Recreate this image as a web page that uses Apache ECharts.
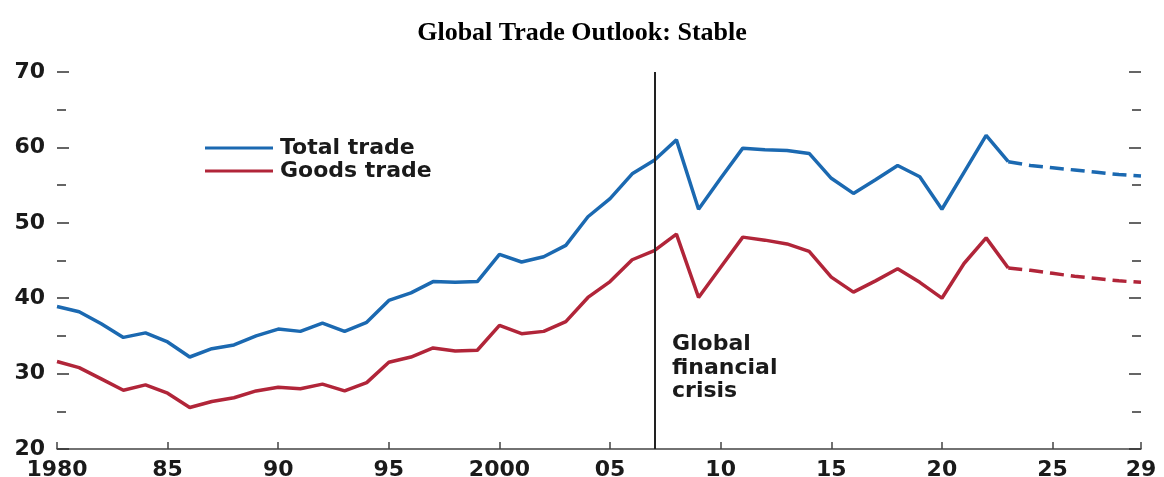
<!DOCTYPE html>
<html>
<head>
<meta charset="utf-8">
<script src="https://cdn.jsdelivr.net/npm/echarts@6/dist/echarts.min.js"></script>
<style>
  html, body { margin: 0; padding: 0; background: #fff; }
  #chart { width: 1164px; height: 477px; }
</style>
</head>
<body>
<div id="chart"></div>
<script>
// years 1980 .. 2029
const years = [];
for (let y = 1980; y <= 2029; y++) years.push(String(y));

// historical 1980-2023
const totalHist = [38.9, 38.2, 36.6, 34.8, 35.4, 34.2, 32.2, 33.3, 33.8, 35.0,
  35.9, 35.6, 36.7, 35.6, 36.8, 39.7, 40.7, 42.2, 42.1, 42.2,
  45.8, 44.8, 45.5, 47.0, 50.8, 53.2, 56.5, 58.3, 61.0, 51.8,
  55.9, 59.9, 59.7, 59.6, 59.2, 55.9, 53.9, 55.7, 57.6, 56.1,
  51.8, 56.7, 61.6, 58.1];
const goodsHist = [31.6, 30.8, 29.3, 27.8, 28.5, 27.4, 25.5, 26.3, 26.8, 27.7,
  28.2, 28.0, 28.6, 27.7, 28.8, 31.5, 32.2, 33.4, 33.0, 33.1,
  36.4, 35.3, 35.6, 36.9, 40.1, 42.2, 45.1, 46.3, 48.5, 40.1,
  44.1, 48.1, 47.7, 47.2, 46.2, 42.8, 40.8, 42.3, 43.9, 42.1,
  40.0, 44.6, 48.0, 44.0];
// projections 2023-2029
const totalProj = [58.1, 57.6, 57.3, 57.0, 56.7, 56.4, 56.2];
const goodsProj = [44.0, 43.7, 43.3, 42.9, 42.6, 42.3, 42.1];

const crisisYear = '2007';
const labelYears = ['1980', '1985', '1990', '1995', '2000', '2005', '2010', '2015', '2020', '2025', '2029'];

const histPad = (arr) => arr.concat(new Array(years.length - arr.length).fill(null));
const projPad = (arr) => new Array(years.length - arr.length).fill(null).concat(arr);

const blue = '#1b69b1';
const red = '#b12539';
const ink = '#1a1a1a';
const font = 'DejaVu Sans';
const showYear = (i, v) => labelYears.indexOf(years[i]) >= 0;

const chart = echarts.init(document.getElementById('chart'));
chart.setOption({
  animation: false,
  title: {
    text: 'Global Trade Outlook: Stable',
    left: 'center',
    top: 15,
    textStyle: { fontFamily: 'Liberation Serif', fontWeight: 'bold', fontSize: 26, color: '#000' }
  },
  legend: {
    data: ['Total trade', 'Goods trade'],
    orient: 'vertical',
    left: 200,
    top: 132,
    icon: 'rect',
    itemWidth: 68,
    itemHeight: 3,
    itemGap: 1,
    textStyle: { fontFamily: font, fontWeight: 'bold', fontSize: 22, lineHeight: 20, color: ink, padding: [0, 0, 0, 2] }
  },
  grid: { left: 57, right: 23, top: 72, bottom: 28, outerBoundsMode: 'none' },
  xAxis: {
    type: 'category',
    data: years,
    boundaryGap: false,
    axisLine: { lineStyle: { color: '#444', width: 1.5 } },
    axisTick: { inside: true, length: 7, interval: showYear, lineStyle: { color: '#444', width: 1.5 } },
    axisLabel: {
      interval: showYear,
      margin: 10,
      fontFamily: font,
      fontWeight: 'bold',
      fontSize: 22,
      color: ink,
      formatter: (v) => (v === '1980' || v === '2000') ? v : v.slice(2)
    }
  },
  yAxis: [{
    type: 'value',
    min: 20, max: 70, interval: 10,
    axisLine: { show: false },
    axisTick: { show: true, inside: true, length: 12, lineStyle: { color: '#333', width: 1.5 } },
    minorTick: { show: true, splitNumber: 2, length: 9, lineStyle: { color: '#333', width: 1.5 } },
    splitLine: { show: false },
    axisLabel: { margin: 12, fontFamily: font, fontWeight: 'bold', fontSize: 22, color: ink }
  }, {
    type: 'value',
    position: 'right',
    min: 20, max: 70, interval: 10,
    axisLine: { show: false },
    axisTick: { show: true, inside: true, length: 12, lineStyle: { color: '#333', width: 1.5 } },
    minorTick: { show: true, splitNumber: 2, length: 9, lineStyle: { color: '#333', width: 1.5 } },
    splitLine: { show: false },
    axisLabel: { show: false }
  }],
  series: [{
    name: 'Total trade',
    type: 'line',
    data: histPad(totalHist),
    symbol: 'none',
    color: blue,
    lineStyle: { width: 3.5, color: blue },
    markLine: {
      silent: true,
      symbol: 'none',
      label: { show: false },
      lineStyle: { color: '#222', width: 2, type: 'solid' },
      data: [{ xAxis: crisisYear }]
    }
  }, {
    name: 'Goods trade',
    type: 'line',
    data: histPad(goodsHist),
    symbol: 'none',
    color: red,
    lineStyle: { width: 3.5, color: red }
  }, {
    name: 'Total trade projection',
    type: 'line',
    data: projPad(totalProj),
    symbol: 'none',
    lineStyle: { width: 3.5, color: blue, type: [14, 7] }
  }, {
    name: 'Goods trade projection',
    type: 'line',
    data: projPad(goodsProj),
    symbol: 'none',
    lineStyle: { width: 3.5, color: red, type: [14, 7] }
  }],
  graphic: [{
    type: 'text',
    left: 672,
    top: 333,
    style: {
      text: 'Global\nfinancial\ncrisis',
      fontFamily: font,
      fontWeight: 'bold',
      fontSize: 22,
      lineHeight: 23.5,
      fill: ink
    }
  }]
});
</script>
</body>
</html>
